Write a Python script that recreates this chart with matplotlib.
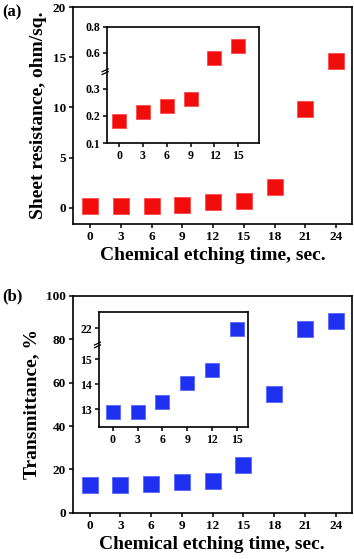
import numpy as np
import matplotlib
matplotlib.use("Agg")
import matplotlib.pyplot as plt

plt.rcParams['font.family'] = 'Liberation Serif'
plt.rcParams['font.weight'] = 'bold'

# data
etch_time = [0, 3, 6, 9, 12, 15, 18, 21, 24]
sheet_res = [0.18, 0.21, 0.24, 0.26, 0.56, 0.65, 2.1, 9.85, 14.65]
transmit = [12.9, 12.9, 13.3, 14.1, 14.6, 22.0, 54.8, 84.6, 88.6]

inset_time = [0, 3, 6, 9, 12, 15]
inset_res = [0.18, 0.213, 0.237, 0.262, 0.562, 0.654]
inset_trans = [12.9, 12.9, 13.28, 14.05, 14.57, 21.98]

xticks_main = [0, 3, 6, 9, 12, 15, 18, 21, 24]
xticks_inset = [0, 3, 6, 9, 12, 15]
res_ticks = [0.1, 0.2, 0.3, 0.6, 0.8]
res_ticklabels = ['0.1', '0.2', '0.3', '0.6', '0.8']
trans_ticks = [13, 14, 15, 22]

RED = '#f20d0d'
BLUE = '#1f30f0'


def broken(vals, pos):
    # piecewise linear y scale for the broken inset axes
    def fwd(v):
        return np.interp(v, vals, pos, left=None, right=None)

    def inv(p):
        return np.interp(p, pos, vals)
    return fwd, inv


def style(ax, size):
    for s in ax.spines.values():
        s.set_linewidth(1.2)
    ax.tick_params(direction='out', length=3, width=1.1, labelsize=size, pad=2)
    for lab in ax.get_xticklabels() + ax.get_yticklabels():
        lab.set_fontweight('bold')


def breakmark(ax, yfrac):
    for dy in (-0.012, 0.012):
        ax.plot([-0.03, 0.01], [yfrac + dy - 0.012, yfrac + dy + 0.012],
                transform=ax.transAxes, color='black', lw=0.9, clip_on=False)


W, H = 354, 559
fig = plt.figure(figsize=(W / 100, H / 100), dpi=100)


def add_ax(x0, y0, x1, y1):
    return fig.add_axes([x0 / W, 1 - y1 / H, (x1 - x0) / W, (y1 - y0) / H])


# panel (a)
ax1 = add_ax(73, 7, 352, 224)
ax1.plot(etch_time, sheet_res, 's', color=RED, ms=11, mec='#ff4a4a', mew=0.6)
ax1.set_xlim(-1.66, 25.56)
ax1.set_ylim(-1.6, 20)
ax1.set_xticks(xticks_main)
ax1.set_yticks([0, 5, 10, 15, 20])
ax1.set_xlabel('Chemical etching time, sec.', fontsize=14, fontweight='bold', labelpad=3)
ax1.set_ylabel('Sheet resistance, ohm/sq.', fontsize=14, fontweight='bold', labelpad=4)
style(ax1, 9.5)
fig.text(2 / W, 1 - 12 / H, '(a)', fontsize=12, fontweight='bold', va='center')

in1 = add_ax(106.7, 26.7, 258.7, 143.3)
f, i = broken([0.1, 0.36, 0.46, 0.8], [0, 71, 72, 116.6])
in1.set_yscale('function', functions=(f, i))
in1.plot(inset_time, inset_res, 's', color=RED, ms=10, mec='#ff4a4a', mew=0.6)
in1.set_xlim(-1.55, 17.56)
in1.set_ylim(0.1, 0.8)
in1.set_xticks(xticks_inset)
in1.set_yticks(res_ticks)
in1.set_yticklabels(res_ticklabels)
in1.minorticks_off()
style(in1, 8.5)
breakmark(in1, 71.6 / 116.6)

# panel (b)
ax2 = add_ax(72.7, 296, 351.7, 512.7)
ax2.plot(etch_time, transmit, 's', color=BLUE, ms=11, mec='#5566ff', mew=0.6)
ax2.set_xlim(-1.66, 25.56)
ax2.set_ylim(0, 100)
ax2.set_xticks(xticks_main)
ax2.set_yticks([0, 20, 40, 60, 80, 100])
ax2.set_xlabel('Chemical etching time, sec.', fontsize=14, fontweight='bold', labelpad=3)
ax2.set_ylabel('Transmittance, %', fontsize=14, fontweight='bold', labelpad=4)
style(ax2, 9.5)
fig.text(2 / W, 1 - 296 / H, '(b)', fontsize=12, fontweight='bold', va='center')

in2 = add_ax(99, 311.7, 248.3, 426.7)
f2, i2 = broken([12.3, 15.55, 21.35, 22.66], [0, 81.2, 82.2, 115])
in2.set_yscale('function', functions=(f2, i2))
in2.plot(inset_time, inset_trans, 's', color=BLUE, ms=10, mec='#5566ff', mew=0.6)
in2.set_xlim(-1.66, 16.4)
in2.set_ylim(12.3, 22.66)
in2.set_xticks(xticks_inset)
in2.set_yticks(trans_ticks)
in2.set_yticklabels([str(t) for t in trans_ticks])
in2.minorticks_off()
style(in2, 8.5)
breakmark(in2, 81.7 / 115)

fig.savefig('out.png', dpi=100)
